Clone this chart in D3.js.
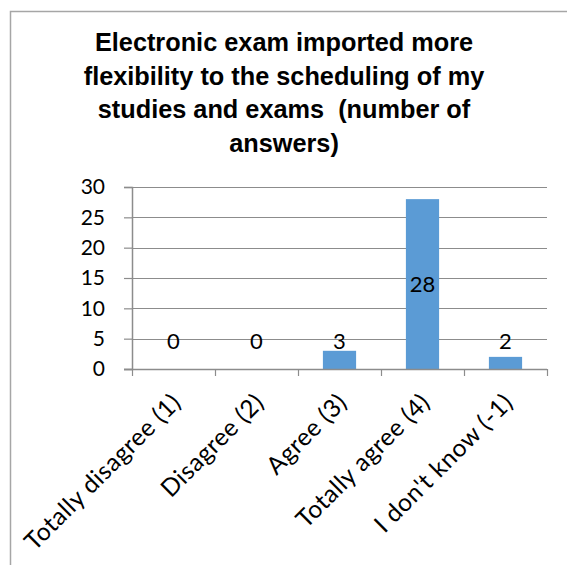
<!DOCTYPE html>
<html>
<head>
<meta charset="utf-8">
<script src="https://cdn.jsdelivr.net/npm/d3@7"></script>
<style>
  html, body { margin: 0; padding: 0; background: #fff; }
  svg { display: block; }
</style>
</head>
<body>
<svg id="chart" width="567" height="565"></svg>
<script>
// Survey answers per category
const categories = ["Totally disagree (1)", "Disagree (2)", "Agree (3)", "Totally agree (4)", "I don't know (-1)"];
const answers = [0, 0, 3, 28, 2];
const yTicks = [0, 5, 10, 15, 20, 25, 30];
const titleLines = [
  "Electronic exam imported more",
  "flexibility to the scheduling of my",
  "studies and exams  (number of",
  "answers)"
];

const svg = d3.select("#chart");
const W = 567, H = 565;
const margin = { left: 132, right: 20, top: 187, bottom: 196 };
const plotW = W - margin.left - margin.right;
const plotH = H - margin.top - margin.bottom;

// chart frame (top and left edges visible)
svg.append("rect")
  .attr("x", 10.5).attr("y", 11.5)
  .attr("width", 600).attr("height", 600)
  .attr("fill", "#fff")
  .attr("stroke", "#a6a6a6").attr("stroke-width", 1.5);

// title
const title = svg.append("text")
  .attr("text-anchor", "middle")
  .attr("font-family", "'Liberation Sans', Arial, sans-serif")
  .attr("font-weight", "bold")
  .attr("font-size", 25.3)
  .attr("fill", "#000")
  .style("white-space", "pre");
titleLines.forEach((t, i) => {
  title.append("tspan").attr("x", 284).attr("y", 51 + i * 33.5).text(t);
});

const x = d3.scaleBand().domain(categories).range([0, plotW]).paddingInner(0.6).paddingOuter(0.3);
const xTicks = d3.scaleBand().domain(categories).range([0, plotW]);
const y = d3.scaleLinear().domain([0, 30]).range([plotH, 0]);

const g = svg.append("g").attr("transform", `translate(${margin.left},${margin.top})`);

// horizontal gridlines
g.append("g")
  .selectAll("line")
  .data(yTicks.filter(v => v > 0))
  .join("line")
  .attr("x1", 0).attr("x2", plotW)
  .attr("y1", d => Math.round(y(d)) + 0.5).attr("y2", d => Math.round(y(d)) + 0.5)
  .attr("stroke", "#8c8c8c").attr("stroke-width", 1.2);

// bars
g.append("g")
  .selectAll("rect")
  .data(answers)
  .join("rect")
  .attr("x", (d, i) => x(categories[i]))
  .attr("y", d => y(d))
  .attr("width", x.bandwidth())
  .attr("height", d => y(0) - y(d))
  .attr("fill", "#5b9bd5");

// y axis
const yAxis = g.append("g")
  .call(d3.axisLeft(y).tickValues(yTicks).tickSize(8).tickPadding(19));
yAxis.select(".domain").attr("stroke", "#8c8c8c").attr("stroke-width", 1.5);
yAxis.selectAll(".tick line").attr("stroke", "#8c8c8c").attr("stroke-width", 1.2);
yAxis.selectAll(".tick text")
  .attr("font-family", "Lato, 'Open Sans', sans-serif")
  .attr("font-size", 21)
  .attr("fill", "#000");

// x axis line and category separators
const xAxisG = g.append("g").attr("transform", `translate(0,${plotH})`);
xAxisG.append("line")
  .attr("x1", -8).attr("x2", plotW)
  .attr("y1", 0.5).attr("y2", 0.5)
  .attr("stroke", "#8c8c8c").attr("stroke-width", 1.5);
const bounds = categories.map(c => xTicks(c)).concat([plotW]);
xAxisG.selectAll("line.sep")
  .data(bounds)
  .join("line")
  .attr("class", "sep")
  .attr("x1", d => d + 0.5).attr("x2", d => d + 0.5)
  .attr("y1", 0).attr("y2", 7)
  .attr("stroke", "#8c8c8c").attr("stroke-width", 1.2);

// rotated category labels
xAxisG.selectAll("text")
  .data(categories)
  .join("text")
  .attr("text-anchor", "end")
  .attr("font-family", "Lato, 'Open Sans', sans-serif")
  .attr("font-size", 24.5)
  .attr("letter-spacing", 0.5)
  .attr("fill", "#000")
  .attr("transform", d => `translate(${xTicks(d) + xTicks.bandwidth() / 2 + 9},${35}) rotate(-45)`)
  .text(d => d);

// value labels: inside tall bars, above short ones
const labelFloor = y(3) - 2;
g.append("g")
  .selectAll("text")
  .data(answers)
  .join("text")
  .attr("text-anchor", "middle")
  .attr("font-family", "Lato, 'Open Sans', sans-serif")
  .attr("font-size", 22)
  .attr("fill", "#000")
  .attr("x", (d, i) => x(categories[i]) + x.bandwidth() / 2)
  .attr("y", d => (y(0) - y(d) > 40 ? y(d / 2) + 8 : Math.min(labelFloor, y(d) - 2)))
  .text(d => d);
</script>
</body>
</html>
